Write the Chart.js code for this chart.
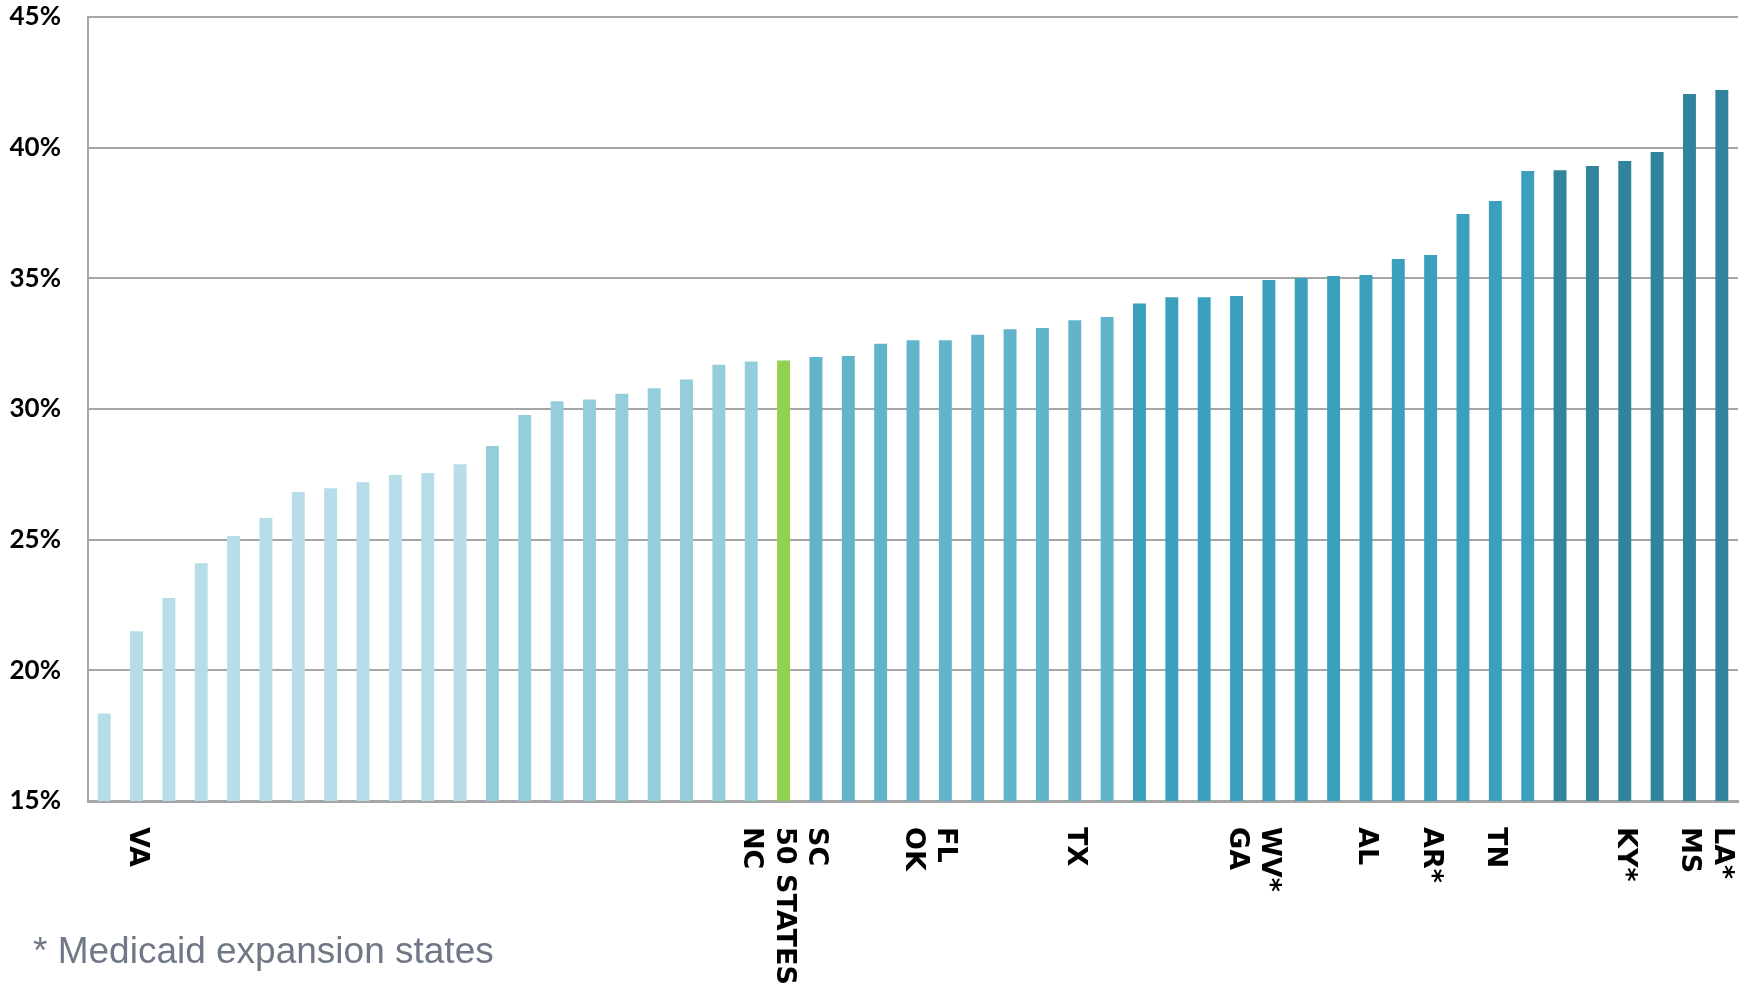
<!DOCTYPE html>
<html>
<head>
<meta charset="utf-8">
<script src="https://cdn.jsdelivr.net/npm/chart.js@4.4.1/dist/chart.umd.min.js"></script>
<style>
  html, body { margin: 0; padding: 0; background: #ffffff; }
  #wrap { width: 1748px; height: 986px; position: relative; }
  canvas { display: block; }
</style>
</head>
<body>
<div id="wrap"><canvas id="c" width="1748" height="986"></canvas></div>
<script>
// ---- data ----
const stateLabels = [
  '', 'VA', '', '', '', '', '', '', '', '', '', '', '', '', '', '', '', '', '', '',
  'NC', '50 STATES', 'SC', '', '', 'OK', 'FL', '', '', '', 'TX', '', '', '', '', 'GA',
  'WV*', '', '', 'AL', '', 'AR*', '', 'TN', '', '', '', 'KY*', '', 'MS', 'LA*'
];
const shareValues = [
  18.35, 21.5, 22.77, 24.1, 25.14, 25.83, 26.82, 26.97, 27.2, 27.47,
  27.55, 27.89, 28.58, 29.77, 30.3, 30.36, 30.58, 30.79, 31.13, 31.69,
  31.82, 31.86, 31.99, 32.03, 32.5, 32.63, 32.63, 32.84, 33.05, 33.1,
  33.4, 33.52, 34.04, 34.28, 34.28, 34.32, 34.94, 35.01, 35.09, 35.13,
  35.74, 35.89, 37.46, 37.96, 39.11, 39.14, 39.3, 39.49, 39.83, 42.05,
  42.21
];
const yTicks = [15, 20, 25, 30, 35, 40, 45];
const footnote = '* Medicaid expansion states';

// ---- styles ----
const colorBands = [
  { upto: 11, color: '#b7dde8' },
  { upto: 20, color: '#94cddc' },
  { upto: 21, color: '#92d050' },
  { upto: 31, color: '#62b4cb' },
  { upto: 44, color: '#3ba0be' },
  { upto: 50, color: '#31849b' }
];
const barColors = shareValues.map((v, i) => colorBands.find(b => i <= b.upto).color);

const xLabelPlugin = {
  id: 'xLabelPlugin',
  afterDraw(chart) {
    const ctx = chart.ctx;
    const xs = chart.scales.x;
    const area = chart.chartArea;
    ctx.save();
    ctx.fillStyle = '#000000';
    ctx.font = 'bold 27px "DejaVu Sans"';
    ctx.textAlign = 'left';
    ctx.textBaseline = 'middle';
    stateLabels.forEach((lab, i) => {
      if (!lab) return;
      const x = xs.getPixelForValue(i);
      ctx.save();
      ctx.translate(x, area.bottom + 26);
      ctx.rotate(Math.PI / 2);
      ctx.fillText(lab, 0, 0);
      ctx.restore();
    });
    ctx.fillStyle = '#707888';
    ctx.font = '37px "Liberation Sans", Arial, sans-serif';
    ctx.textBaseline = 'alphabetic';
    ctx.fillText(footnote, 33, 963);
    ctx.restore();
  }
};

new Chart(document.getElementById('c'), {
  type: 'bar',
  data: {
    labels: stateLabels,
    datasets: [{
      data: shareValues,
      backgroundColor: barColors,
      borderWidth: 0,
      categoryPercentage: 1.0,
      barPercentage: 0.4
    }]
  },
  options: {
    responsive: false,
    devicePixelRatio: 1,
    animation: false,
    layout: { padding: { top: 17, right: 10, bottom: 185, left: 0 } },
    plugins: { legend: { display: false }, tooltip: { enabled: false }, title: { display: false } },
    scales: {
      x: {
        grid: { display: false, drawTicks: false },
        border: { display: true, color: '#a6a6a6', width: 3 },
        ticks: { display: false }
      },
      y: {
        min: yTicks[0],
        max: yTicks[yTicks.length - 1],
        afterBuildTicks(scale) { scale.ticks = yTicks.map(v => ({ value: v })); },
        afterFit(scale) {
          scale.width = 88;
          scale.paddingTop = 0;
          scale.paddingBottom = 0;
        },
        grid: { color: '#a6a6a6', lineWidth: 2, drawTicks: false },
        border: { display: true, color: '#a6a6a6', width: 2 },
        ticks: {
          padding: 27,
          color: '#000000',
          font: { family: 'Lato', weight: 'bold', size: 26 },
          callback: v => v + '%'
        }
      }
    }
  },
  plugins: [xLabelPlugin]
});
</script>
</body>
</html>
